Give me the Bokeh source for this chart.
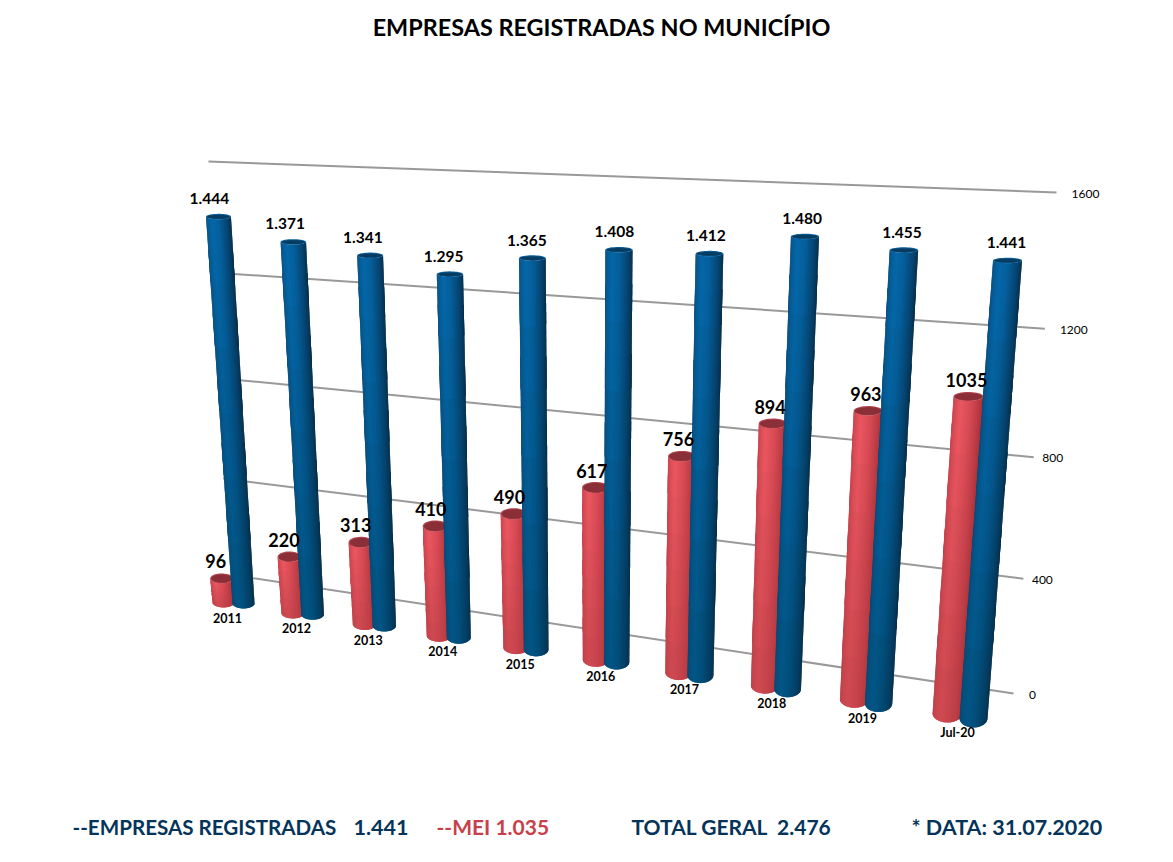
import numpy as np
from bokeh.plotting import figure
from bokeh.models import ColumnDataSource, Range1d
from bokeh.core.properties import value
from bokeh.embed import file_html
from bokeh.resources import INLINE

years = ["2011","2012","2013","2014","2015","2016","2017","2018","2019","Jul-20"]
empresas = [1444,1371,1341,1295,1365,1408,1412,1480,1455,1441]
mei = [96,220,313,410,490,617,756,894,963,1035]
empresas_labels = ["1.444","1.371","1.341","1.295","1.365","1.408","1.412","1.480","1.455","1.441"]
grid_values = [0,400,800,1200,1600]
title = "EMPRESAS REGISTRADAS NO MUNICÍPIO"

FONT = "Lato"
GRID_VMAX = 1600
BLUE_VREF = 1441
RED_VREF = 1035

def homography(q):
    src = [(0,0),(1,0),(0,1),(1,1)]
    A, b = [], []
    for (u,v),(x,y) in zip(src,q):
        A.append([u,v,1,0,0,0,-u*x,-v*x]); b.append(x)
        A.append([0,0,0,u,v,1,-u*y,-v*y]); b.append(y)
    h = np.linalg.solve(np.array(A,float),np.array(b,float))
    H = np.append(h,1).reshape(3,3)
    def f(t,s):
        d = H[2,0]*t+H[2,1]*s+H[2,2]
        return (H[0,0]*t+H[0,1]*s+H[0,2])/d, (H[1,0]*t+H[1,1]*s+H[1,2])/d
    return f

grid_map = homography([(248,577),(1013,693),(208,161),(1056,192)])
blue_map = homography([(243,603),(973,718),(218,217),(1007,260)])
red_map  = homography([(223,602),(947,713),(203,330),(968,396)])

BLUE_STOPS = np.array([[14,72,118],[6,92,150],[5,104,172],[6,96,158],[5,76,126],[8,56,92],[6,44,74]],float)
BLUE_LOW   = np.array([[12,66,104],[4,78,122],[2,84,130],[2,78,122],[3,66,104],[6,54,86],[6,44,70]],float)
RED_STOPS  = np.array([[190,62,72],[216,74,84],[236,88,98],[222,78,88],[198,64,74],[174,52,62],[152,42,52]],float)
RED_LOW    = np.array([[182,62,70],[196,68,76],[204,72,80],[198,68,76],[188,62,70],[168,54,62],[150,46,54]],float)

def shade(stops, f):
    pos = np.linspace(0,1,len(stops))
    return [np.interp(f,pos,stops[:,k]) for k in range(3)]

def hexc(c):
    return "#%02x%02x%02x" % tuple(int(round(v)) for v in c)

xs_all, ys_all, colors = [], [], []

def add_poly(xs, ys, c):
    xs_all.append(list(xs)); ys_all.append(list(ys)); colors.append(c)

def cylinder(mapper, t, s, w0, w1, b0, b1, stops, low, cap_dark, cap_light):
    NS, NH = 22, 6
    x0,y0 = mapper(t,0.0); x1,y1 = mapper(t,s)
    th = np.linspace(np.pi,0,NS+1)
    for k in range(NS):
        th_a, th_b = th[k], th[min(k+2,NS)]
        f = (k+0.5)/NS
        for j in range(NH):
            g0, g1 = j/NH, min(1.0,(j+1.5)/NH)
            pts = []
            for g, ang in ((g0,th_a),(g0,th_b),(g1,th_b),(g1,th_a)):
                cx, cy = x0+(x1-x0)*g, y0+(y1-y0)*g
                w = w0+(w1-w0)*g; b = b0+(b1-b0)*g
                pts.append((cx+w/2*np.cos(ang), cy+b*np.sin(ang)))
            mix = (j+0.5)/NH
            c = np.array(shade(low,f))*(1-mix)+np.array(shade(stops,f))*mix
            add_poly([q[0] for q in pts],[q[1] for q in pts],hexc(c))
    ang = np.linspace(0,2*np.pi,40)
    add_poly(x1+w1/2*np.cos(ang), y1+b1*np.sin(ang), cap_light)
    add_poly(x1+(w1/2-1.2)*np.cos(ang), y1+0.2+(b1-0.9)*np.sin(ang), cap_dark)

def lerp(a,b,f): return a+(b-a)*f

p = figure(width=1157,height=846,output_backend="svg",toolbar_location=None,
           x_range=Range1d(0,1157),y_range=Range1d(846,0),min_border=0)
p.axis.visible=False; p.grid.visible=False; p.outline_line_color=None
p.background_fill_color="white"; p.border_fill_color="white"

gx,gy=[],[]
for v in grid_values:
    t0 = -0.025 if v==400 else 0.0   # the 400 line shows a stub left of the first bar
    a=grid_map(t0,v/GRID_VMAX); b=grid_map(1,v/GRID_VMAX)
    gx.append([a[0],b[0]]); gy.append([a[1],b[1]])
p.multi_line(gx,gy,line_color="#999999",line_width=2)

for i in range(len(years)):
    t=i/(len(years)-1)
    sr=mei[i]/RED_VREF; sb=empresas[i]/BLUE_VREF
    fr=mei[i]/1441
    cylinder(red_map,t,sr,lerp(22,30,t),lerp(23,30,t),
             lerp(5,9,t),lerp(lerp(5,9,t),4.5,min(1,fr*1.4)),RED_STOPS,RED_LOW,"#8a2f38","#b4434c")
    cylinder(blue_map,t,sb,lerp(22,28,t),lerp(25,29,t),lerp(5,9,t),2.8,BLUE_STOPS,BLUE_LOW,"#073c60","#0a5f9a")
src=ColumnDataSource(dict(xs=xs_all,ys=ys_all,c=colors))
p.patches("xs","ys",source=src,fill_color="c",line_color=None)

def txt(x,y,t,size,color="#000000",style="bold",align="center"):
    p.text([x],[y],text=[t],text_font=value(FONT),text_font_size=f"{size}px",text_font_style=style,
           text_color=color,text_align=align,text_baseline="middle")

for i in range(len(years)):
    t=i/(len(years)-1)
    x,y=blue_map(t,empresas[i]/BLUE_VREF)
    txt(x+lerp(-9,-1,t),y-18,empresas_labels[i],15.5)
    x,y=red_map(t,mei[i]/RED_VREF)
    txt(x+lerp(-6,-2,t),y-17,str(mei[i]),18)
    x,y=blue_map(t,0)
    txt(x-16,y+14,years[i],12.5)

for v in grid_values:
    x,y=grid_map(1,v/GRID_VMAX)
    txt(x+(29 if v>=1000 else 19),y+1,str(v),12,style="normal")

txt(601,26,title,23.4)
NAVY="#04345a"; RED="#c9404a"
txt(72,826,"--EMPRESAS REGISTRADAS",20.6,NAVY,align="left")
txt(353,827,"1.441",21.5,NAVY,align="left")
txt(436,826,"--MEI 1.035",21,RED,align="left")
txt(631,826,"TOTAL GERAL\u00a0\u00a02.476",21,NAVY,align="left")
txt(911,826,"* DATA: 31.07.2020",21.5,NAVY,align="left")

open("out.html","w").write(file_html(p,INLINE))
